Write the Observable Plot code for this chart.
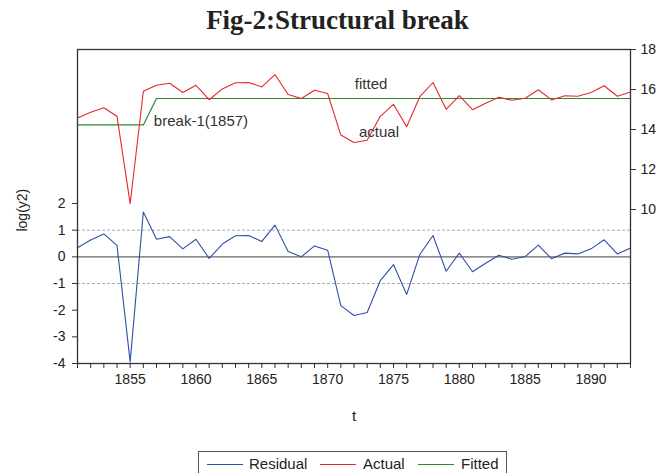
<!DOCTYPE html>
<html>
<head>
<meta charset="utf-8">
<script src="https://cdn.jsdelivr.net/npm/d3@7"></script>
<script src="https://cdn.jsdelivr.net/npm/@observablehq/plot@0.6"></script>
<style>
  html, body { margin: 0; padding: 0; background: #fff; }
  #wrap { position: relative; width: 659px; height: 473px; overflow: hidden; font-family: "Liberation Sans", Arial, sans-serif; }
  #chart { position: absolute; left: 0; top: 0; }
  #title { position: absolute; left: 0; width: 675px; top: 4px; text-align: center; font-family: "Liberation Serif", serif; font-weight: bold; font-size: 27px; line-height: 32px; color: #222; }
  #legend { position: absolute; left: 198px; top: 451px; width: 309px; height: 26px; border: 1px solid #555; box-sizing: border-box; font-size: 15px; color: #222; }
  .li { position: absolute; top: 3px; line-height: 18px; }
  .sw { position: absolute; top: 12px; height: 0; border-top: 1.2px solid; width: 36px; }
</style>
</head>
<body>
<div id="wrap">
  <div id="chart"></div>
  <div id="title">Fig-2:Structural break</div>
  <div id="legend"></div>
</div>
<script>
const years = [1851,1852,1853,1854,1855,1856,1857,1858,1859,1860,1861,1862,1863,1864,1865,1866,1867,1868,1869,1870,1871,1872,1873,1874,1875,1876,1877,1878,1879,1880,1881,1882,1883,1884,1885,1886,1887,1888,1889,1890,1891,1892,1893];
const residual = [0.34,0.63,0.86,0.43,-3.94,1.68,0.66,0.76,0.30,0.66,-0.06,0.48,0.79,0.80,0.58,1.19,0.20,0.00,0.41,0.25,-1.83,-2.20,-2.09,-0.89,-0.29,-1.41,0.09,0.80,-0.54,0.14,-0.56,-0.24,0.06,-0.09,0.01,0.44,-0.07,0.14,0.11,0.30,0.64,0.11,0.33];
const actual = [14.57,14.86,15.09,14.66,10.29,15.91,16.21,16.31,15.85,16.21,15.49,16.03,16.34,16.35,16.13,16.74,15.75,15.55,15.96,15.80,13.72,13.35,13.46,14.66,15.26,14.14,15.64,16.35,15.01,15.69,14.99,15.31,15.61,15.46,15.56,15.99,15.48,15.69,15.66,15.85,16.19,15.66,15.88];
const fitted = [14.23,14.23,14.23,14.23,14.23,14.23,15.55,15.55,15.55,15.55,15.55,15.55,15.55,15.55,15.55,15.55,15.55,15.55,15.55,15.55,15.55,15.55,15.55,15.55,15.55,15.55,15.55,15.55,15.55,15.55,15.55,15.55,15.55,15.55,15.55,15.55,15.55,15.55,15.55,15.55,15.55,15.55,15.55];
const leftTicks = [-4,-3,-2,-1,0,1,2];
const rightTicks = [10,12,14,16,18];
const xLabelYears = [1855,1860,1865,1870,1875,1880,1885,1890];
const centerLabels = [
  {text: "fitted", year: 1873.3, value: 16.27},
  {text: "actual", year: 1873.9, value: 13.87}
];
const startLabels = [
  {text: "break-1(1857)", year: 1856.8, value: 14.43}
];
const legendItems = [
  {name: "Residual", color: "#2f4fa6"},
  {name: "Actual", color: "#e8262c"},
  {name: "Fitted", color: "#2b8a2e"}
];

// Left (residual) domain and right (actual/fitted) domain share one pixel range
const leftDomain = [-4, 7.777];
const rightDomain = [2.3, 18];
const toLeft = d3.scaleLinear().domain(rightDomain).range(leftDomain);

const rows = years.map((t, i) => ({t, residual: residual[i], actual: toLeft(actual[i]), fitted: toLeft(fitted[i])}));

const chart = Plot.plot({
  width: 659,
  height: 473,
  marginTop: 49,
  marginBottom: 110,
  marginLeft: 77,
  marginRight: 29,
  style: {fontFamily: "'Liberation Sans', Arial, sans-serif", fontSize: "14px", color: "#222", background: "transparent"},
  x: {domain: [1851, 1893]},
  y: {domain: leftDomain},
  marks: [
    Plot.ruleY([-1, 1], {stroke: "#aaa", strokeDasharray: "3,2", strokeWidth: 1}),
    Plot.ruleY([0], {stroke: "#666", strokeWidth: 1.3}),
    Plot.line(rows, {x: "t", y: "fitted", stroke: legendItems[2].color, strokeWidth: 1.2}),
    Plot.line(rows, {x: "t", y: "actual", stroke: legendItems[1].color, strokeWidth: 1.1}),
    Plot.line(rows, {x: "t", y: "residual", stroke: legendItems[0].color, strokeWidth: 1.1}),
    Plot.text(centerLabels, {x: "year", y: d => toLeft(d.value), text: "text", textAnchor: "middle", fontSize: 15, fill: "#333"}),
    Plot.text(startLabels, {x: "year", y: d => toLeft(d.value), text: "text", textAnchor: "start", fontSize: 15, fill: "#333"}),
    Plot.axisX({ticks: years, tickSize: 5, tickPadding: 6, tickFormat: d => xLabelYears.includes(d) ? String(d) : "", label: null, stroke: "#333", fill: "#222"}),
    Plot.axisY({ticks: leftTicks, tickSize: 5, tickPadding: 7, tickFormat: d => String(d), label: null, stroke: "#333", fill: "#222"}),
    Plot.axisY({anchor: "right", ticks: rightTicks.map(v => toLeft(v)), tickSize: 5, tickPadding: 5, tickFormat: v => String(Math.round(toLeft.invert(v))), label: null, stroke: "#333", fill: "#222"}),
    Plot.frame({stroke: "#333", strokeWidth: 1.3}),
    Plot.text(["log(y2)"], {frameAnchor: "left", y: [0.95], dx: -55, rotate: -90, fontSize: 14, fill: "#222"}),
    Plot.text(["t"], {frameAnchor: "bottom", x: [1872], dy: 57, fontSize: 15, fill: "#222"})
  ]
});
document.getElementById("chart").appendChild(chart);

const legend = document.getElementById("legend");
const swX = [8, 121, 219];
const txX = [50, 164, 262];
legendItems.forEach((d, i) => {
  const sw = document.createElement("div");
  sw.className = "sw";
  sw.style.left = swX[i] + "px";
  sw.style.borderColor = d.color;
  legend.appendChild(sw);
  const tx = document.createElement("div");
  tx.className = "li";
  tx.style.left = txX[i] + "px";
  tx.textContent = d.name;
  legend.appendChild(tx);
});
</script>
</body>
</html>
